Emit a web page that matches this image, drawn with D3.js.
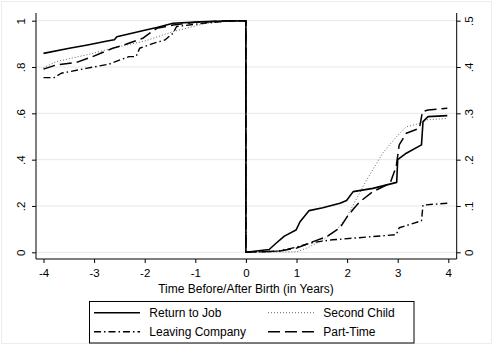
<!DOCTYPE html>
<html>
<head>
<meta charset="utf-8">
<script src="https://cdn.jsdelivr.net/npm/d3@7"></script>
<style>
  body { margin: 0; background: #fff; }
  svg { display: block; }
  text { font-family: "Liberation Sans", Arial, sans-serif; fill: #000; }
</style>
</head>
<body>
<svg id="chart" width="493" height="345"></svg>
<script>
// ticks
const xTicks = [-4, -3, -2, -1, 0, 1, 2, 3, 4];
const leftTicks = [0, 0.2, 0.4, 0.6, 0.8, 1];
const leftLabels = ['0', '.2', '.4', '.6', '.8', '1'];
const rightTicks = [0, 0.1, 0.2, 0.3, 0.4, 0.5];
const rightLabels = ['0', '.1', '.2', '.3', '.4', '.5'];

// before birth: [years, share] on the left axis
const returnBefore = [[-4, 0.859], [-3.49, 0.881], [-3.13, 0.895], [-2.74, 0.912], [-2.6, 0.918], [-2.55, 0.931],
  [-2.17, 0.950], [-1.98, 0.960], [-1.76, 0.971], [-1.44, 0.989], [-0.9, 0.995], [-0.45, 0.999], [0, 1]];
const childBefore = [[-4, 0.797], [-3.75, 0.823], [-3.16, 0.852], [-2.51, 0.888], [-2.0, 0.912], [-1.44, 0.953],
  [-0.78, 0.989], [-0.3, 0.999], [0, 1]];
const leavingBefore = [[-4, 0.754], [-3.79, 0.754], [-3.65, 0.773], [-3.16, 0.794], [-2.71, 0.812], [-2.31, 0.845],
  [-2.17, 0.845], [-2.1, 0.881], [-1.83, 0.902], [-1.60, 0.917], [-1.44, 0.946], [-1.37, 0.975], [-0.8, 0.99], [-0.3, 0.999], [0, 1]];
const partBefore = [[-4, 0.791], [-3.75, 0.809], [-3.36, 0.819], [-3.03, 0.845], [-2.63, 0.881], [-2.37, 0.898],
  [-2.04, 0.924], [-1.9, 0.946], [-1.76, 0.967], [-1.44, 0.981], [-1.0, 0.993], [-0.4, 0.999], [0, 1]];

// after birth: [years, share] on the right axis
const returnAfter = [[0, 0], [0.46, 0.006], [0.59, 0.019], [0.76, 0.035], [0.99, 0.048], [1.07, 0.066], [1.25, 0.090],
  [1.52, 0.096], [1.86, 0.106], [1.99, 0.112], [2.12, 0.131], [2.51, 0.138], [2.98, 0.151], [3.0, 0.200],
  [3.17, 0.214], [3.47, 0.232], [3.5, 0.282], [3.60, 0.293], [3.98, 0.295]];
const childAfter = [[0, 0], [1.0, 0.001], [1.2, 0.009], [1.53, 0.027], [1.79, 0.048], [1.99, 0.076], [2.12, 0.102],
  [2.38, 0.155], [2.71, 0.215], [2.98, 0.250], [3.17, 0.271], [3.43, 0.278], [3.57, 0.286], [3.98, 0.289]];
const leavingAfter = [[0, 0], [0.54, 0.002], [0.66, 0.003], [0.99, 0.011], [1.32, 0.021], [1.71, 0.027], [2.17, 0.031],
  [2.97, 0.038], [3.03, 0.053], [3.47, 0.068], [3.5, 0.102], [3.98, 0.106]];
const partAfter = [[0, 0], [0.67, 0.003], [1.0, 0.009], [1.33, 0.023], [1.60, 0.034], [1.86, 0.053], [1.99, 0.075],
  [2.12, 0.093], [2.25, 0.109], [2.51, 0.131], [2.85, 0.149], [2.97, 0.185], [3.03, 0.232], [3.17, 0.257],
  [3.43, 0.268], [3.49, 0.304], [3.60, 0.307], [3.98, 0.311]];

const svg = d3.select('#chart');

// plot region
const plot = { left: 36, right: 456.7, top: 13, bottom: 259 };
const x = d3.scaleLinear().domain([-4, 4]).range([43.5, 448.3]);
const yLeft = d3.scaleLinear().domain([0, 1]).range([252.3, 20.7]);
const yRight = d3.scaleLinear().domain([0, 0.5]).range([252.3, 20.7]);

// outer frame
svg.append('rect')
  .attr('x', 1.5).attr('y', 1.5).attr('width', 490).attr('height', 342)
  .attr('fill', 'none').attr('stroke', '#ececec');

// grid
svg.append('g')
  .selectAll('line')
  .data(leftTicks)
  .enter()
  .append('line')
  .attr('x1', plot.left).attr('x2', plot.right)
  .attr('y1', d => yLeft(d)).attr('y2', d => yLeft(d))
  .attr('stroke', '#e8e8e8').attr('stroke-width', 1);

// axes
const axisLeft = d3.axisLeft(yLeft).tickValues(leftTicks).tickSize(4).tickFormat((d, i) => leftLabels[i]);
const axisRight = d3.axisRight(yRight).tickValues(rightTicks).tickSize(4).tickFormat((d, i) => rightLabels[i]);
const axisBottom = d3.axisBottom(x).tickValues(xTicks).tickSize(4).tickFormat(d => d);

function styleAxis(g) {
  g.select('.domain').remove();
  g.selectAll('.tick line').attr('stroke', '#000');
  g.selectAll('.tick text').attr('font-size', 11.5).attr('font-family', '"Liberation Sans", Arial, sans-serif');
}

const gl = svg.append('g').attr('transform', `translate(${plot.left},0)`).call(axisLeft).call(styleAxis);
gl.selectAll('.tick text')
  .attr('x', null).attr('dy', null)
  .attr('text-anchor', 'middle')
  .attr('transform', `translate(${20.8 - plot.left},0) rotate(-90)`)
  .attr('dy', '0.35em');

const gr = svg.append('g').attr('transform', `translate(${plot.right},0)`).call(axisRight).call(styleAxis);
gr.selectAll('.tick text')
  .attr('x', null).attr('dy', null)
  .attr('text-anchor', 'middle')
  .attr('transform', `translate(${468.5 - plot.right},0) rotate(-90)`)
  .attr('dy', '0.35em');

const gb = svg.append('g').attr('transform', `translate(0,${plot.bottom})`).call(axisBottom).call(styleAxis);
gb.selectAll('.tick text').attr('y', 14).attr('dy', '0.35em');

// axis lines
svg.append('line').attr('x1', plot.left).attr('x2', plot.left).attr('y1', plot.top).attr('y2', plot.bottom).attr('stroke', '#000');
svg.append('line').attr('x1', plot.right).attr('x2', plot.right).attr('y1', plot.top).attr('y2', plot.bottom).attr('stroke', '#000');
svg.append('line').attr('x1', plot.left).attr('x2', plot.right).attr('y1', plot.bottom).attr('y2', plot.bottom).attr('stroke', '#000');

// series
const styles = [
  { name: 'Second Child', before: childBefore, after: childAfter, dash: '1,2', color: '#666', width: 1 },
  { name: 'Leaving Company', before: leavingBefore, after: leavingAfter, dash: '7,3,1.5,3', color: '#000', width: 1.4 },
  { name: 'Part-Time', before: partBefore, after: partAfter, dash: '12,5', color: '#000', width: 1.5 },
  { name: 'Return to Job', before: returnBefore, after: returnAfter, dash: null, color: '#000', width: 1.6 }
];

const line = d3.line().x(d => x(d[0])).y(d => d[1]);

svg.append('g')
  .selectAll('path')
  .data(styles)
  .enter()
  .append('path')
  .attr('d', s => line(
    s.before.map(p => [p[0], yLeft(p[1])]).concat(s.after.map(p => [p[0], yRight(p[1])]))
  ))
  .attr('fill', 'none')
  .attr('stroke', s => s.color)
  .attr('stroke-width', s => s.width)
  .attr('stroke-dasharray', s => s.dash)
  .attr('stroke-linejoin', 'round');

// x title
svg.append('text')
  .attr('x', 246).attr('y', 288.5).attr('dy', '0.35em')
  .attr('text-anchor', 'middle').attr('font-size', 12)
  .text('Time Before/After Birth (in Years)');

// legend
svg.append('rect')
  .attr('x', 89.5).attr('y', 301.5).attr('width', 324.5).attr('height', 41.5)
  .attr('fill', '#fff').attr('stroke', '#000');

const legendItems = [
  { s: styles[3], col: 0, row: 0 },
  { s: styles[0], col: 1, row: 0 },
  { s: styles[1], col: 0, row: 1 },
  { s: styles[2], col: 1, row: 1 }
];
const colX = [94, 268];
const rowY = [312.7, 331.7];

const lg = svg.append('g').selectAll('g').data(legendItems).enter().append('g');
lg.append('line')
  .attr('x1', d => colX[d.col]).attr('x2', d => colX[d.col] + 46)
  .attr('y1', d => rowY[d.row]).attr('y2', d => rowY[d.row])
  .attr('stroke', d => d.s.color)
  .attr('stroke-width', d => d.s.width)
  .attr('stroke-dasharray', d => d.s.dash);
lg.append('text')
  .attr('x', d => colX[d.col] + 55.3).attr('y', d => rowY[d.row]).attr('dy', '0.35em')
  .attr('font-size', 12)
  .text(d => d.s.name);
</script>
</body>
</html>
